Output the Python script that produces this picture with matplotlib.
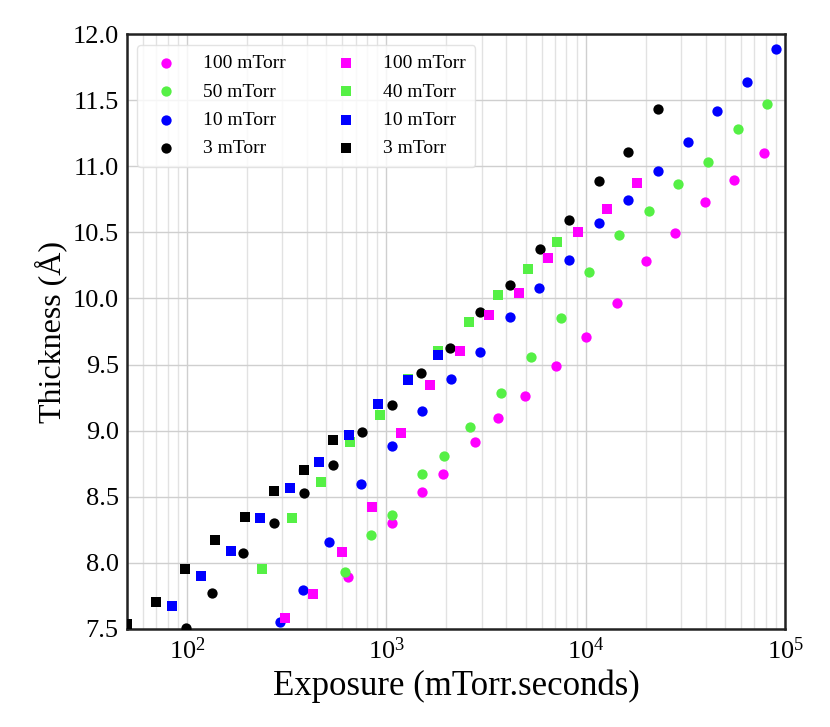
import numpy as np
import matplotlib
matplotlib.use("Agg")
import matplotlib.pyplot as plt

plt.rcParams["font.family"] = ["Liberation Serif", "DejaVu Serif"]
plt.rcParams["mathtext.fontset"] = "stix"

# series 1: circles
x_c100 = [643, 1066, 1503, 1922, 2793, 3642, 4943, 7073, 10074, 14365, 19970, 28090, 39720, 55540, 78600]
y_c100 = [7.893, 8.301, 8.536, 8.674, 8.914, 9.095, 9.264, 9.491, 9.705, 9.967, 10.285, 10.498, 10.733, 10.90, 11.104]

x_c50 = [617, 833, 1062, 1503, 1951, 2618, 3746, 5298, 7519, 10430, 14650, 20730, 28980, 40790, 57700, 80700]
y_c50 = [7.927, 8.210, 8.359, 8.674, 8.805, 9.024, 9.284, 9.559, 9.854, 10.197, 10.480, 10.662, 10.868, 11.036, 11.281, 11.475]

x_c10 = [293, 382, 517, 745, 1062, 1508, 2102, 2959, 4184, 5853, 8277, 11670, 16370, 23000, 32370, 45630, 64330, 90280]
y_c10 = [7.549, 7.791, 8.157, 8.596, 8.886, 9.145, 9.390, 9.595, 9.859, 10.083, 10.290, 10.569, 10.745, 10.968, 11.185, 11.418, 11.641, 11.887]

x_c3 = [99.4, 133.6, 192, 271.6, 386.9, 537, 756, 1062, 1491, 2092, 2959, 4170, 5880, 8268, 11630, 16320, 23000]
y_c3 = [7.507, 7.774, 8.074, 8.303, 8.525, 8.737, 8.989, 9.196, 9.436, 9.625, 9.894, 10.104, 10.378, 10.597, 10.888, 11.110, 11.430]

# series 2: squares
x_s100 = [308.5, 426.3, 598, 846, 1179, 1654, 2332, 3272, 4612, 6494, 9120, 12840, 18100]
y_s100 = [7.582, 7.766, 8.079, 8.419, 8.979, 9.349, 9.602, 9.874, 10.041, 10.306, 10.501, 10.676, 10.877]

x_s40 = [237.3, 334.4, 469, 658, 928, 1282, 1820, 2588, 3642, 5117, 7205]
y_s40 = [7.953, 8.339, 8.613, 8.914, 9.12, 9.39, 9.60, 9.822, 10.030, 10.222, 10.424]

x_s10 = [84.1, 117.6, 165.8, 232.6, 328, 460, 646, 907, 1282, 1808]
y_s10 = [7.675, 7.897, 8.089, 8.341, 8.566, 8.762, 8.964, 9.203, 9.385, 9.572]

x_s3 = [50, 69.9, 98.2, 138.3, 194.3, 273.5, 385.6, 541]
y_s3 = [7.539, 7.700, 7.955, 8.169, 8.349, 8.545, 8.699, 8.931]

magenta = "#ff00ff"
green = "#55f045"
blue = "#0000ff"
black = "#000000"

fig = plt.figure(figsize=(8.3, 7.27), dpi=100)
ax = fig.add_axes([0.153, 0.135, 0.793, 0.818])

ms = 55
ax.scatter(x_c100, y_c100, s=ms, c=magenta, marker="o", label="100 mTorr", zorder=3, linewidths=0)
ax.scatter(x_c50, y_c50, s=ms, c=green, marker="o", label="50 mTorr", zorder=3, linewidths=0)
ax.scatter(x_c10, y_c10, s=ms, c=blue, marker="o", label="10 mTorr", zorder=3, linewidths=0)
ax.scatter(x_c3, y_c3, s=ms, c=black, marker="o", label="3 mTorr", zorder=3, linewidths=0)
ax.scatter(x_s100, y_s100, s=ms, c=magenta, marker="s", label="100 mTorr", zorder=3, linewidths=0)
ax.scatter(x_s40, y_s40, s=ms, c=green, marker="s", label="40 mTorr", zorder=3, linewidths=0)
ax.scatter(x_s10, y_s10, s=ms, c=blue, marker="s", label="10 mTorr", zorder=3, linewidths=0)
ax.scatter(x_s3, y_s3, s=ms, c=black, marker="s", label="3 mTorr", zorder=3, linewidths=0)

ax.set_xscale("log")
ax.set_xlim(50, 1e5)
ax.set_ylim(7.5, 12.0)
ax.set_yticks(np.arange(7.5, 12.01, 0.5))
ax.set_yticklabels([f"{v:.1f}" for v in np.arange(7.5, 12.01, 0.5)])

ax.grid(True, which="major", color="#cfcfcf", linewidth=1.0, zorder=0)
ax.grid(True, which="minor", axis="x", color="#e2e2e2", linewidth=1.0, zorder=0)
ax.set_axisbelow(True)

ax.tick_params(axis="both", which="both", length=0, labelsize=19, pad=6)
for sp in ax.spines.values():
    sp.set_color("#222222")
    sp.set_linewidth(1.8)

ax.set_xlabel("Exposure (mTorr.seconds)", fontsize=25, labelpad=4)
ax.set_ylabel("Thickness (Å)", fontsize=23)

leg = ax.legend(loc="upper left", ncol=2, fontsize=14, frameon=True, fancybox=True,
                handletextpad=0.9, columnspacing=2.1, borderpad=0.5, labelspacing=0.55,
                scatterpoints=1, borderaxespad=0, bbox_to_anchor=(0.015, 0.982))
leg.get_frame().set_edgecolor("#dddddd")
leg.get_frame().set_linewidth(1.0)

fig.savefig("out.png", dpi=100)
